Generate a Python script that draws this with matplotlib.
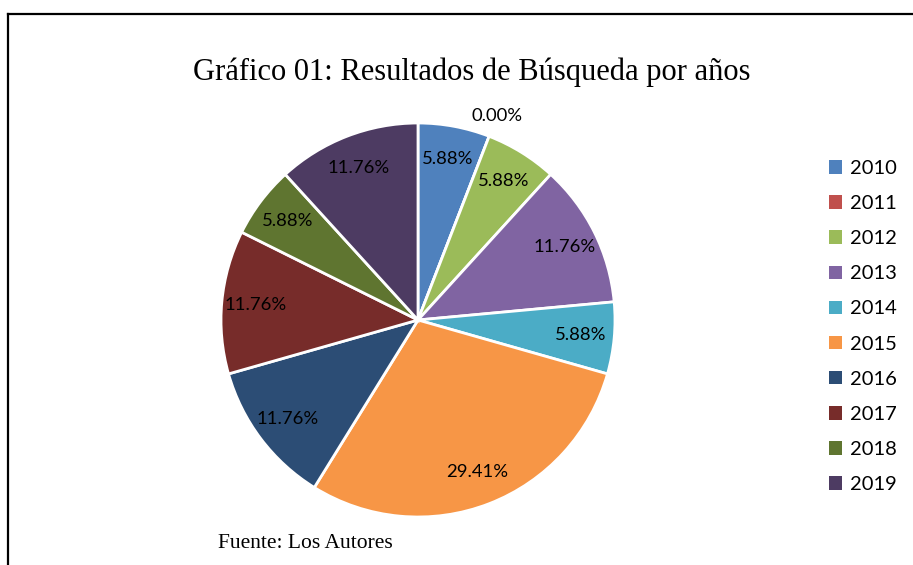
import numpy as np
import matplotlib.pyplot as plt
from matplotlib.lines import Line2D

# datos del grafico
anios = ['2010', '2011', '2012', '2013', '2014', '2015', '2016', '2017', '2018', '2019']
resultados = [1, 0, 1, 2, 1, 5, 2, 2, 1, 2]
colores = ['#4F81BD', '#C0504D', '#9BBB59', '#8064A2', '#4BACC6',
           '#F79646', '#2C4D75', '#772C2A', '#5F7530', '#4D3B62']

W, H = 913, 565
fig = plt.figure(figsize=(W / 100, H / 100), dpi=100)

# marco
fig.add_artist(Line2D([8 / W, 1], [1 - 14 / H, 1 - 14 / H], color='black', lw=1.6))
fig.add_artist(Line2D([8 / W, 8 / W], [0, 1 - 14 / H], color='black', lw=1.6))

# ejes del pastel (centro 418,320 radio 197 px)
cx, cy, r = 418, 320, 197
ax = fig.add_axes([(cx - r) / W, (H - cy - r) / H, 2 * r / W, 2 * r / H])

total = sum(resultados)
porcentajes = [v / total * 100 for v in resultados]

wedges, _ = ax.pie(resultados, colors=colores, startangle=90, counterclock=False,
                   radius=1, wedgeprops=dict(edgecolor='white', linewidth=2))
ax.set_xlim(-1, 1)
ax.set_ylim(-1, 1)
ax.set_aspect('equal')
ax.axis('off')

# etiquetas de porcentaje
for w, p in zip(wedges, porcentajes):
    ang = np.deg2rad((w.theta1 + w.theta2) / 2)
    d = 0.83 if p > 0 else 1.11
    ax.text(d * np.cos(ang), d * np.sin(ang), f'{p:.2f}%', ha='center', va='center',
            fontsize=13.3, family='Lato', color='black', clip_on=False)

fig.text(472 / W, 1 - 72 / H, 'Gráfico 01: Resultados de Búsqueda por años',
         ha='center', va='center', family='Liberation Serif', fontsize=22)
fig.text(218 / W, 1 - 544 / H, 'Fuente: Los Autores', ha='left', va='center',
         family='Liberation Serif', fontsize=15.5)

leg = fig.legend(wedges, anios, loc='upper left', bbox_to_anchor=(829 / W, 1 - 160 / H),
                 frameon=False, prop={'family': 'Lato', 'size': 14.5},
                 borderpad=0, borderaxespad=0,
                 handlelength=0.65, handleheight=0.65, handletextpad=0.4, labelspacing=0.9)
for h in leg.legend_handles:
    h.set_edgecolor('none')

fig.savefig('out.png', dpi=100)
